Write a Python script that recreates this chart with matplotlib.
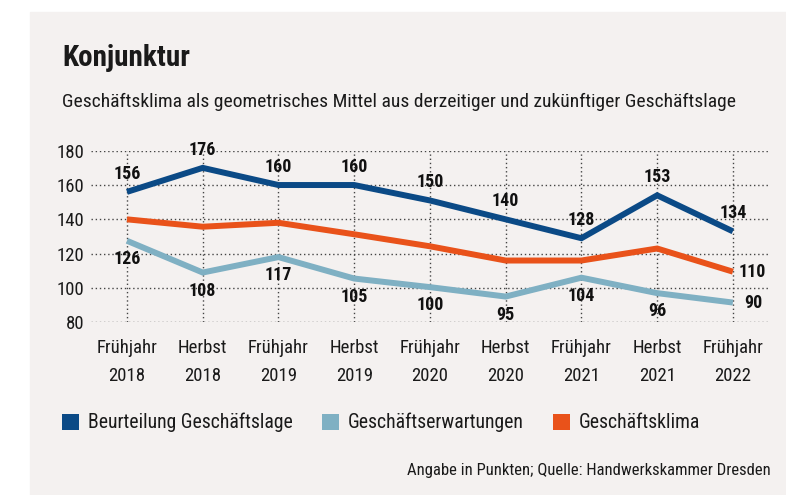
import matplotlib
matplotlib.use('Agg')
import matplotlib.pyplot as plt
import matplotlib.font_manager as fm
from matplotlib.patches import Rectangle, Patch

# Werte aus der Grafik (Linienlage) und die aufgedruckten Zahlen
perioden = ['Frühjahr\n2018', 'Herbst\n2018', 'Frühjahr\n2019', 'Herbst\n2019',
            'Frühjahr\n2020', 'Herbst\n2020', 'Frühjahr\n2021', 'Herbst\n2021',
            'Frühjahr\n2022']
lage = [156, 170, 160, 160, 151, 140, 129, 154, 133]
lage_labels = [156, 176, 160, 160, 150, 140, 128, 153, 134]
erwartung = [127.5, 109, 118, 105.5, 100.5, 95, 106, 97, 91.5]
erwartung_labels = [126, 108, 117, 105, 100, 95, 104, 96, 90]
klima = [140, 135.7, 138, 131.3, 124.3, 116, 116, 123, 109.5]
klima_labels = [None, None, None, None, None, None, None, None, 110]
yticks = [80, 100, 120, 140, 160, 180]

namen = ['Beurteilung Geschäftslage', 'Geschäftserwartungen', 'Geschäftsklima']
farben = ['#0b4a86', '#7fb0c3', '#e9521a']
BG = '#f4f1f0'

# schmale Schrift wenn vorhanden
avail = {f.name for f in fm.fontManager.ttflist}
FONT = 'Roboto'
for cand in ['Roboto Condensed', 'Liberation Sans Narrow', 'Roboto']:
    if cand in avail:
        FONT = cand
        break
plt.rcParams['font.family'] = [FONT, 'DejaVu Sans']
plt.rcParams['text.color'] = '#1a1a1a'

W, H = 786, 495
fig = plt.figure(figsize=(W / 100, H / 100), dpi=100)
fig.patch.set_facecolor('white')
fig.patches.append(Rectangle((30 / W, 0), 1 - 30 / W, 1 - 12 / H,
                             transform=fig.transFigure, color=BG, zorder=-5))

fig.text(62 / W, 1 - 66 / H, 'Konjunktur', fontsize=21, fontweight='bold',
         va='baseline', ha='left')
fig.text(62 / W, 1 - 107 / H,
         'Geschäftsklima als geometrisches Mittel aus derzeitiger und zukünftiger Geschäftslage',
         fontsize=14, va='baseline', ha='left')
fig.text(771 / W, 1 - 475 / H, 'Angabe in Punkten; Quelle: Handwerkskammer Dresden',
         fontsize=12, va='baseline', ha='right')

ax = fig.add_axes([91 / W, 1 - 322.3 / H, (770 - 91) / W, (322.3 - 150.7) / H])
ax.set_facecolor('none')
x = list(range(len(perioden)))

for xi in x:
    ax.axvline(xi, color='#444444', linestyle=(0, (1, 2)), linewidth=1, zorder=1)
for yv in yticks:
    ax.axhline(yv, color='#444444', linestyle=(0, (1, 2)), linewidth=1, zorder=1)

lw = 4.3
for serie, farbe in zip([erwartung, klima, lage], [farben[1], farben[2], farben[0]]):
    ax.plot(x, serie, color=farbe, linewidth=lw, solid_joinstyle='miter',
            solid_capstyle='butt', zorder=3)

lab_kw = dict(fontsize=13, fontweight='bold', ha='center', va='center',
              textcoords='offset points', zorder=4, color='#111111')
for xi, (yv, lab) in enumerate(zip(lage, lage_labels)):
    ax.annotate(str(lab), (xi, yv), xytext=(0, 13), **lab_kw)
for xi, (yv, lab) in enumerate(zip(erwartung, erwartung_labels)):
    if xi == len(x) - 1:
        ax.annotate(str(lab), (xi, yv), xytext=(14.5, 0), **lab_kw)
    else:
        ax.annotate(str(lab), (xi, yv), xytext=(0, -13), **lab_kw)
for xi, (yv, lab) in enumerate(zip(klima, klima_labels)):
    if lab is not None:
        ax.annotate(str(lab), (xi, yv), xytext=(14, 0), **lab_kw)

ax.set_xlim(-0.475, 8.49)
ax.set_ylim(80, 180)
ax.set_yticks(yticks)
ax.set_xticks(x)
ax.set_xticklabels(perioden, linespacing=1.75)
ax.tick_params(axis='both', length=0, labelsize=13.5, colors='#1a1a1a')
ax.tick_params(axis='y', pad=5)
ax.tick_params(axis='x', pad=12)
for s in ax.spines.values():
    s.set_visible(False)

handles = [Patch(facecolor=f, edgecolor='none', label=n) for f, n in zip(farben, namen)]
fig.legend(handles=handles, loc='upper left', bbox_to_anchor=(62 / W, 1 - 413 / H),
           ncol=3, frameon=False, fontsize=14.2, handlelength=0.85, handleheight=0.85,
           handletextpad=0.45, columnspacing=1.5, borderpad=0, borderaxespad=0)

fig.savefig('out.png', dpi=100, facecolor=fig.get_facecolor())
